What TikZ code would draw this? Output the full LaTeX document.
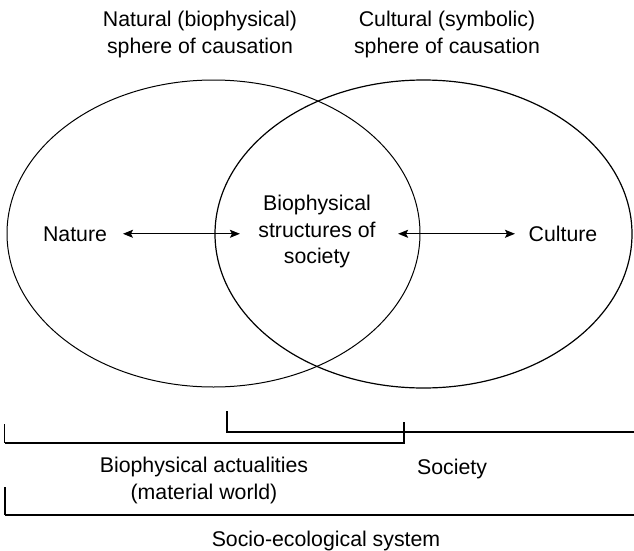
\documentclass[tikz,border=0pt]{standalone}
\usepackage{fontspec}
\setmainfont{Liberation Sans}
\usetikzlibrary{arrows.meta,shapes.geometric}
\begin{document}
\begin{tikzpicture}[x=1pt,y=-1pt,
  every node/.style={inner sep=0pt, outer sep=0pt},
  txt/.style={font=\fontsize{21.3}{26.5}\selectfont, align=center},
  sphere/.style={draw, ellipse, line width=1pt},
  tip/.tip={Stealth[length=10pt,width=8pt,inset=2pt]},
  link/.style={tip-tip, line width=0.9pt},
  thin bar/.style={line width=1.1pt},
  thick bar/.style={line width=2.4pt},
]
\useasboundingbox (0,0) rectangle (634,551);

% the two spheres of causation
\node[sphere, minimum width=413pt, minimum height=307pt] (natsphere) at (213.5,233.5) {};
\node[sphere, line width=1.2pt, minimum width=417pt, minimum height=308pt] (culsphere) at (423.5,234) {};

% headings
\node[txt] (nathead) at (200,34.5) {Natural (biophysical)\\sphere of causation};
\node[txt] (culhead) at (447,34.5) {Cultural (symbolic)\\sphere of causation};

% labels inside the spheres
\node[txt, anchor=base] (nature) at (75,241) {Nature};
\node[txt, anchor=base] (culture) at (563,241.5) {Culture};
\node[txt] (bio) at (317,231.5) {Biophysical\\structures of\\society};

% interactions
\draw[link, shorten <=16pt, shorten >=18.5pt] (nature.east) -- (nature.east -| bio.west);
\draw[link, line width=1.3pt, shorten <=22.5pt, shorten >=13.7pt] (nature.east -| bio.east) -- (nature.east -| culture.west);

% brackets below
\draw[thin bar] (4.5,424) -- (4.5,443);
\draw[thin bar] (404,422) -- (404,443);
\draw[thick bar] (4.5,443) -- (405,443);
\draw[thin bar] (227,411) |- (634,432);
\draw[line width=1.2pt] (5,487) -- (5,515);
\draw[line width=2pt] (5,515) -- (634,515);

\node[txt] (actual) at (204,480.5) {Biophysical actualities\\(material world)};
\node[txt, anchor=base] (society) at (452,474) {Society};
\node[txt, anchor=base] (system) at (326,546) {Socio-ecological system};
\end{tikzpicture}
\end{document}
